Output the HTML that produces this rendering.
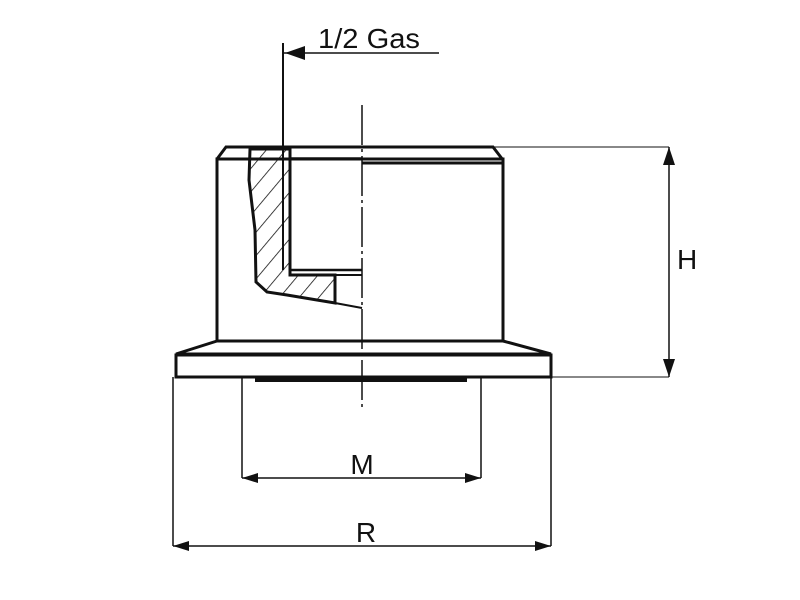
<!DOCTYPE html>
<html><head><style>body{margin:0;background:#fff}svg{display:block}</style></head><body>
<svg width="800" height="600" viewBox="0 0 800 600" xmlns="http://www.w3.org/2000/svg" font-family="Liberation Sans, sans-serif">
<defs><pattern id="h" patternUnits="userSpaceOnUse" width="15" height="15" patternTransform="rotate(40)"><line x1="0" y1="0" x2="0" y2="15" stroke="#111" stroke-width="1.6"/></pattern></defs>
<g fill="none" stroke="#111" stroke-width="3">
<path d="M217,159 L226,147 L493,147 L503,160"/>
<rect x="217" y="159" width="286" height="182"/>
<line x1="362" y1="163" x2="503" y2="163"/>
<line x1="290" y1="158" x2="362" y2="158" stroke-width="1.5"/>
<path d="M250,149 L249,180 L255,230 L256,282 L267,292 L287,295 L317,300 L335,303 L335,275 L290,275 L290,149 Z" fill="url(#h)"/>
<line x1="335" y1="303" x2="362" y2="308" stroke-width="2"/>
<path d="M290,270 L362,270" stroke-width="2.5"/>
<path d="M290,275 L362,275" stroke-width="2"/>
<path d="M217,341 L176,354 L551,354 L503,341"/>
<rect x="176" y="355" width="375" height="22"/>
</g>
<rect x="255" y="377" width="212" height="5" fill="#111"/>
<g stroke="#111" stroke-width="1.5" fill="none">
<line x1="362" y1="105" x2="362" y2="408" stroke-dasharray="40,4,3,4"/>
<line x1="283" y1="43" x2="283" y2="270" stroke-width="2"/>
<line x1="283" y1="53" x2="439" y2="53"/>
<line x1="493" y1="147" x2="669" y2="147" stroke-width="1"/>
<line x1="551" y1="377" x2="669" y2="377" stroke-width="1"/>
<line x1="669" y1="147" x2="669" y2="377"/>
<line x1="242" y1="377" x2="242" y2="478"/>
<line x1="481" y1="377" x2="481" y2="478"/>
<line x1="242" y1="478" x2="481" y2="478"/>
<line x1="173" y1="377" x2="173" y2="546"/>
<line x1="551" y1="377" x2="551" y2="546"/>
<line x1="173" y1="546" x2="551" y2="546"/>
</g>
<g fill="#111">
<polygon points="285,53 305,46 305,60"/>
<polygon points="669,147 663,165 675,165"/>
<polygon points="669,377 663,359 675,359"/>
<polygon points="242,478 258,473 258,483"/>
<polygon points="481,478 465,473 465,483"/>
<polygon points="173,546 189,541 189,551"/>
<polygon points="551,546 535,541 535,551"/>
</g>
<g fill="#111" font-size="28">
<text x="318" y="48" textLength="102" lengthAdjust="spacingAndGlyphs">1/2 Gas</text>
<text x="677" y="269">H</text>
<text x="362" y="474" text-anchor="middle">M</text>
<text x="366" y="542" text-anchor="middle">R</text>
</g>
</svg>
</body></html>
